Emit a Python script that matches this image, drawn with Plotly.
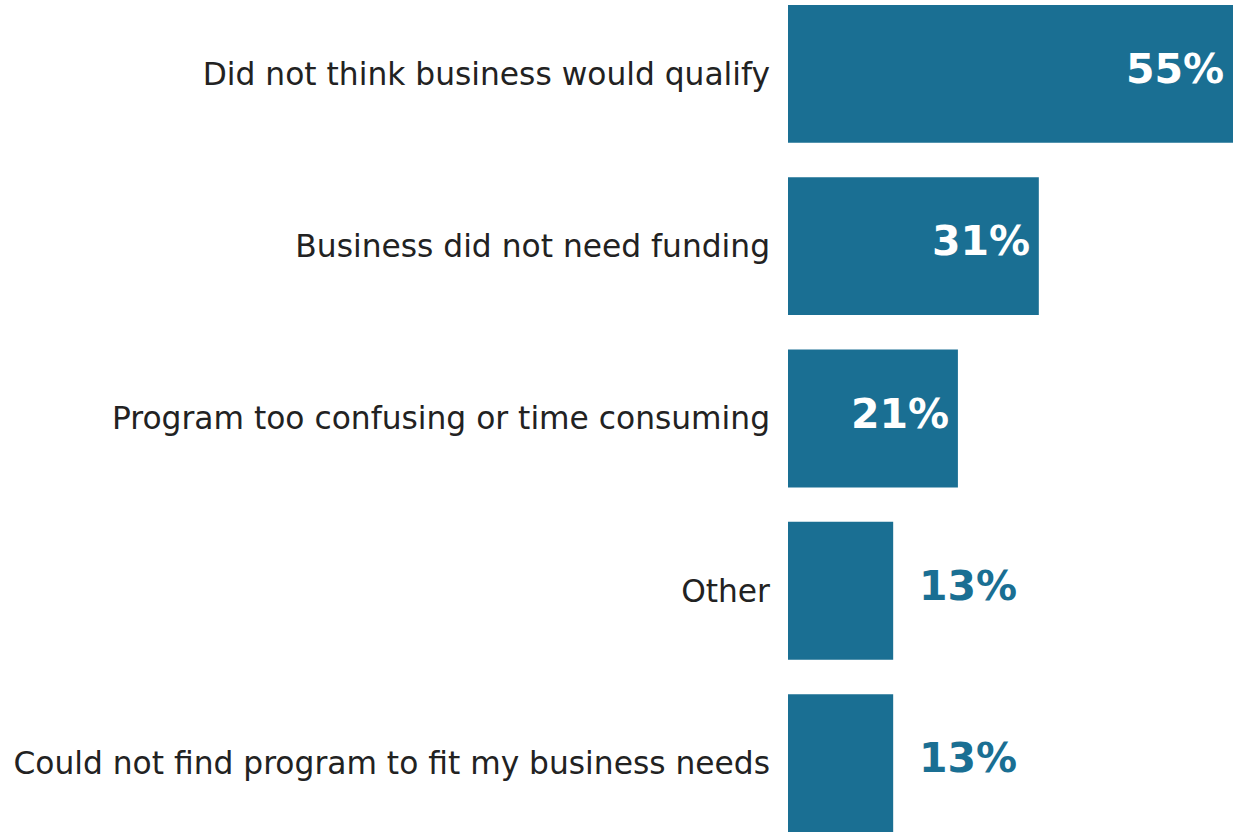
import plotly.graph_objects as go

categories = [
    "Did not think business would qualify",
    "Business did not need funding",
    "Program too confusing or time consuming",
    "Other",
    "Could not find program to fit my business needs",
]
values = [55, 31, 21, 13, 13]
inside = [True, True, True, False, False]

BAR = "#1a6f93"

fig = go.Figure(
    go.Bar(
        x=values,
        y=categories,
        orientation="h",
        marker=dict(color=BAR, line=dict(width=0)),
        width=0.8,
        hoverinfo="skip",
    )
)

annotations = []
for c, v, ins in zip(categories, values, inside):
    annotations.append(
        dict(
            x=v,
            y=c,
            xref="x",
            yref="y",
            text=f"<b>{v}%</b>",
            showarrow=False,
            xanchor="right" if ins else "left",
            xshift=-7 if ins else 24,
            yshift=5,
            font=dict(family="DejaVu Sans", size=41, color="white" if ins else BAR),
        )
    )

fig.update_layout(
    width=1233,
    height=832,
    margin=dict(l=788, r=0, t=5, b=0),
    paper_bgcolor="white",
    plot_bgcolor="white",
    showlegend=False,
    annotations=annotations,
    font=dict(family="DejaVu Sans", size=31.3, color="#222222"),
    xaxis=dict(range=[0, 55], visible=False, fixedrange=True),
    yaxis=dict(
        type="category",
        categoryorder="array",
        categoryarray=categories,
        range=[4.4, -0.4],
        showgrid=False,
        zeroline=False,
        showline=False,
        ticks="",
        ticklabelstandoff=17,
        fixedrange=True,
        tickfont=dict(family="DejaVu Sans", size=31.3, color="#222222"),
    ),
)

fig.write_html(
    "out.html",
    config={"displayModeBar": False},
    post_script="document.body.style.margin='0';document.body.style.overflow='hidden';",
)
